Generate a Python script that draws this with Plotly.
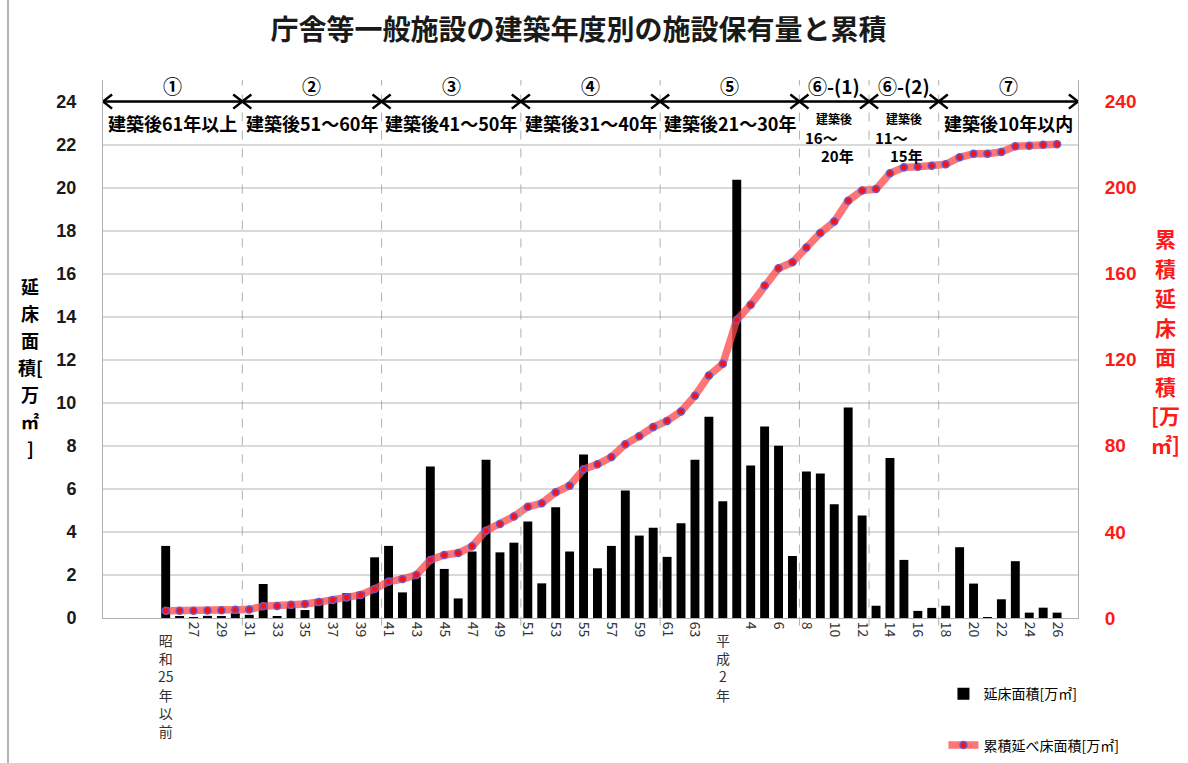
import plotly.graph_objects as go

# 建築年度（昭和25年以前 … 平成26年）
year_labels = [
    "昭和25年以前", "26", "27", "28", "29", "30", "31", "32", "33", "34", "35",
    "36", "37", "38", "39", "40", "41", "42", "43", "44", "45", "46", "47",
    "48", "49", "50", "51", "52", "53", "54", "55", "56", "57", "58", "59",
    "60", "61", "62", "63", "元", "平成2年", "3", "4", "5", "6", "7", "8",
    "9", "10", "11", "12", "13", "14", "15", "16", "17", "18", "19", "20",
    "21", "22", "23", "24", "25", "26",
]

# 延床面積 [万㎡]
floor_area = [
    3.35, 0.05, 0.02, 0.10, 0.05, 0.22, 0.15, 1.58, 0.06, 0.55,
    0.37, 0.88, 0.97, 1.15, 1.22, 2.82, 3.35, 1.19, 1.90, 7.04,
    2.28, 0.91, 3.09, 7.35, 3.05, 3.50, 4.48, 1.61, 5.15, 3.09,
    7.60, 2.31, 3.35, 5.92, 3.83, 4.19, 2.84, 4.40, 7.35, 9.35,
    5.43, 20.37, 7.09, 8.90, 8.00, 2.88, 6.81, 6.71, 5.29, 9.78,
    4.76, 0.57, 7.43, 2.70, 0.33, 0.47, 0.57, 3.29, 1.60, 0.03,
    0.87, 2.64, 0.25, 0.48, 0.25,
]

# 累積延床面積 [万㎡]
cumulative = [
    3.4, 3.4, 3.4, 3.5, 3.6, 3.8, 3.9, 5.5, 5.6, 6.1,
    6.5, 7.4, 8.4, 9.5, 10.7, 13.5, 16.9, 18.1, 20.0, 27.0,
    29.3, 30.2, 33.3, 40.6, 43.7, 47.2, 51.7, 53.3, 58.4, 61.5,
    69.1, 71.4, 74.8, 80.7, 84.5, 88.7, 91.6, 96.0, 103.3, 112.7,
    118.1, 138.5, 145.6, 154.5, 162.5, 165.3, 172.2, 178.9, 184.2, 193.9,
    198.7, 199.3, 206.7, 209.4, 209.7, 210.2, 210.8, 214.1, 215.7, 215.7,
    216.6, 219.2, 219.4, 219.9, 220.2,
]

# 築年数区分：記号、説明、区分の先頭年度
period_marks = ["①", "②", "③", "④", "⑤", "⑥-(1)", "⑥-(2)", "⑦"]
period_texts = ["建築後61年以上", "建築後51～60年", "建築後41～50年", "建築後31～40年",
                "建築後21～30年", None, None, "建築後10年以内"]
period_first = ["", "31", "41", "51", "61", "8", "13", "18"]

# 軸タイトル（縦書きの各段）
left_title = ["延", "床", "面", "積[", "万", "㎡", "]"]
right_title = ["累", "積", "延", "床", "面", "積", "[万", "㎡]"]

FONT = "Noto Sans CJK JP"
x_idx = list(range(len(year_labels)))

# 描画領域（ピクセル）
M_L, M_R, M_T, M_B = 103, 110, 80, 145
W, H = 1188, 763
PW, PH = W - M_L - M_R, H - M_T - M_B


def px_to_paper(xp, yp):
    return (xp - M_L) / PW, (H - M_B - yp) / PH


def year_pos(label, start):
    """区分の先頭年度のインデックス"""
    for i in range(start, len(year_labels)):
        if year_labels[i] == label or year_labels[i] == "平成" + label + "年":
            return i
    return None


# 区分境界（年度の中間）
edges = []
search_from = 0
for k in range(len(period_marks)):
    if k == 0:
        left = -4.5
    else:
        p = year_pos(period_first[k], search_from)
        left = p - 0.5
        search_from = p
    edges.append(left)
edges.append(len(year_labels) + 0.5)

fig = go.Figure()

fig.add_trace(go.Bar(
    x=x_idx, y=floor_area, name="延床面積[万㎡]",
    marker=dict(color="black", line=dict(width=0)),
    legendgroup="a",
))
fig.add_trace(go.Scatter(
    x=x_idx, y=cumulative, name="累積延べ床面積[万㎡]", yaxis="y2",
    mode="lines+markers",
    line=dict(color="rgba(255,70,70,0.75)", width=7.5),
    marker=dict(color="#ff1010", size=7, line=dict(color="#6a5acd", width=1.5)),
    legendgroup="b",
))

shapes = []
annotations = []

# 区分の境界線（破線）
for e in edges[1:-1]:
    shapes.append(dict(type="line", xref="x", yref="paper", x0=e, x1=e, y0=-0.014, y1=1,
                       line=dict(color="#b0b0b0", width=1, dash="dash")))

# 区分を示す両矢印
ya = 24.0
hx, hy = 0.65, 0.33
for k in range(len(period_marks)):
    a, b = edges[k], edges[k + 1]
    shapes.append(dict(type="line", xref="x", yref="y", x0=a, x1=b, y0=ya, y1=ya,
                       line=dict(color="black", width=2.5)))
    shapes.append(dict(type="path", xref="x", yref="y",
                       path=f"M {a + hx},{ya + hy} L {a},{ya} L {a + hx},{ya - hy}",
                       line=dict(color="black", width=2.5)))
    shapes.append(dict(type="path", xref="x", yref="y",
                       path=f"M {b - hx},{ya + hy} L {b},{ya} L {b - hx},{ya - hy}",
                       line=dict(color="black", width=2.5)))
    mid = (a + b) / 2
    annotations.append(dict(x=mid, y=24.75, xref="x", yref="y", text=period_marks[k],
                            showarrow=False, font=dict(family=FONT, size=19, color="black",
                                                       weight="bold")))
    if period_texts[k]:
        annotations.append(dict(x=mid, y=22.98, xref="x", yref="y", text=period_texts[k],
                                showarrow=False, font=dict(family=FONT, size=18, color="black",
                                                           weight="bold")))

# ⑥ の区分説明（3段）
for k, (lo, hi) in [(5, ("16～", "20年")), (6, ("11～", "15年"))]:
    a, b = edges[k], edges[k + 1]
    mid = (a + b) / 2
    annotations.append(dict(x=mid, y=23.2, xref="x", yref="y", text="建築後",
                            showarrow=False, font=dict(family=FONT, size=12, color="black",
                                                       weight="bold")))
    annotations.append(dict(x=a + 0.25, y=22.33, xref="x", yref="y", text=lo, xanchor="left",
                            showarrow=False, font=dict(family=FONT, size=15, color="black",
                                                       weight="bold")))
    annotations.append(dict(x=mid + 0.2, y=21.5, xref="x", yref="y", text=hi,
                            showarrow=False, font=dict(family=FONT, size=15, color="black",
                                                       weight="bold")))

# x軸ラベル（1年おき）、漢字を含むものは縦書き
tickvals, ticktext = [], []
for i in range(0, len(year_labels), 2):
    lab = year_labels[i]
    tickvals.append(i)
    if len(lab) > 2:
        ticktext.append("")
        parts, buf = [], ""
        for ch in lab:
            if ch.isdigit():
                buf += ch
            else:
                if buf:
                    parts.append(buf)
                    buf = ""
                parts.append(ch)
        if buf:
            parts.append(buf)
        annotations.append(dict(x=i, y=-0.018, xref="x", yref="paper", yanchor="top",
                                text="<br>".join(parts), showarrow=False,
                                font=dict(family=FONT, size=14, color="#333333")))
    else:
        ticktext.append(lab)

# 左右の軸タイトル（一段ずつ配置した縦書き）
for j, ch in enumerate(left_title):
    px_, py_ = px_to_paper(30, 286 + 27 * j)
    annotations.append(dict(x=px_, y=py_, xref="paper", yref="paper", xanchor="center",
                            yanchor="middle", text=ch, showarrow=False,
                            font=dict(family=FONT, size=18, color="black", weight="bold")))
for j, ch in enumerate(right_title):
    px_, py_ = px_to_paper(1165, 238 + 29.5 * j)
    annotations.append(dict(x=px_, y=py_, xref="paper", yref="paper", xanchor="center",
                            yanchor="middle", text=ch, showarrow=False,
                            font=dict(family=FONT, size=21, color="#ff1a1a", weight="bold")))

# 外枠（左辺）
bx, _ = px_to_paper(8, 0)
shapes.append(dict(type="line", xref="paper", yref="paper", x0=bx, x1=bx,
                   y0=-0.27, y1=1.149, line=dict(color="#9a9a9a", width=1.5)))

fig.update_layout(
    width=W, height=H,
    margin=dict(l=M_L, r=M_R, t=M_T, b=M_B, autoexpand=False),
    paper_bgcolor="white", plot_bgcolor="white",
    title=dict(text="庁舎等一般施設の建築年度別の施設保有量と累積",
               x=0.487, xanchor="center", y=0.96, yanchor="middle",
               font=dict(family=FONT, size=28, color="#1a1a1a", weight="bold")),
    bargap=0.36,
    showlegend=True,
    legend=dict(x=0.862, y=-0.112, xanchor="left", yanchor="top",
                traceorder="grouped", tracegroupgap=30,
                font=dict(family=FONT, size=14, color="black"),
                bgcolor="rgba(0,0,0,0)", itemwidth=30),
    xaxis=dict(range=[-4.5, 65.5], tickvals=tickvals, ticktext=ticktext, tickangle=90,
               showgrid=False, zeroline=False, showline=True, linecolor="#b0b0b0",
               linewidth=1, ticks="", tickfont=dict(family=FONT, size=14, color="#333333")),
    yaxis=dict(range=[0, 25], tick0=0, dtick=2, showgrid=True, gridcolor="#d9d9d9",
               gridwidth=1.5, zeroline=False, showline=True, linecolor="#b0b0b0",
               ticks="", ticklabelstandoff=22,
               tickfont=dict(family="Liberation Sans", size=18, color="#1a1a1a",
                             weight="bold")),
    yaxis2=dict(range=[0, 250], tick0=0, dtick=40, overlaying="y", side="right",
                showgrid=False, zeroline=False, showline=True, linecolor="#b0b0b0",
                ticks="", ticklabelstandoff=22,
                tickfont=dict(family="Liberation Sans", size=19, color="#ff1a1a",
                              weight="bold")),
    shapes=shapes,
    annotations=annotations,
)

fig.write_html("out.html")
